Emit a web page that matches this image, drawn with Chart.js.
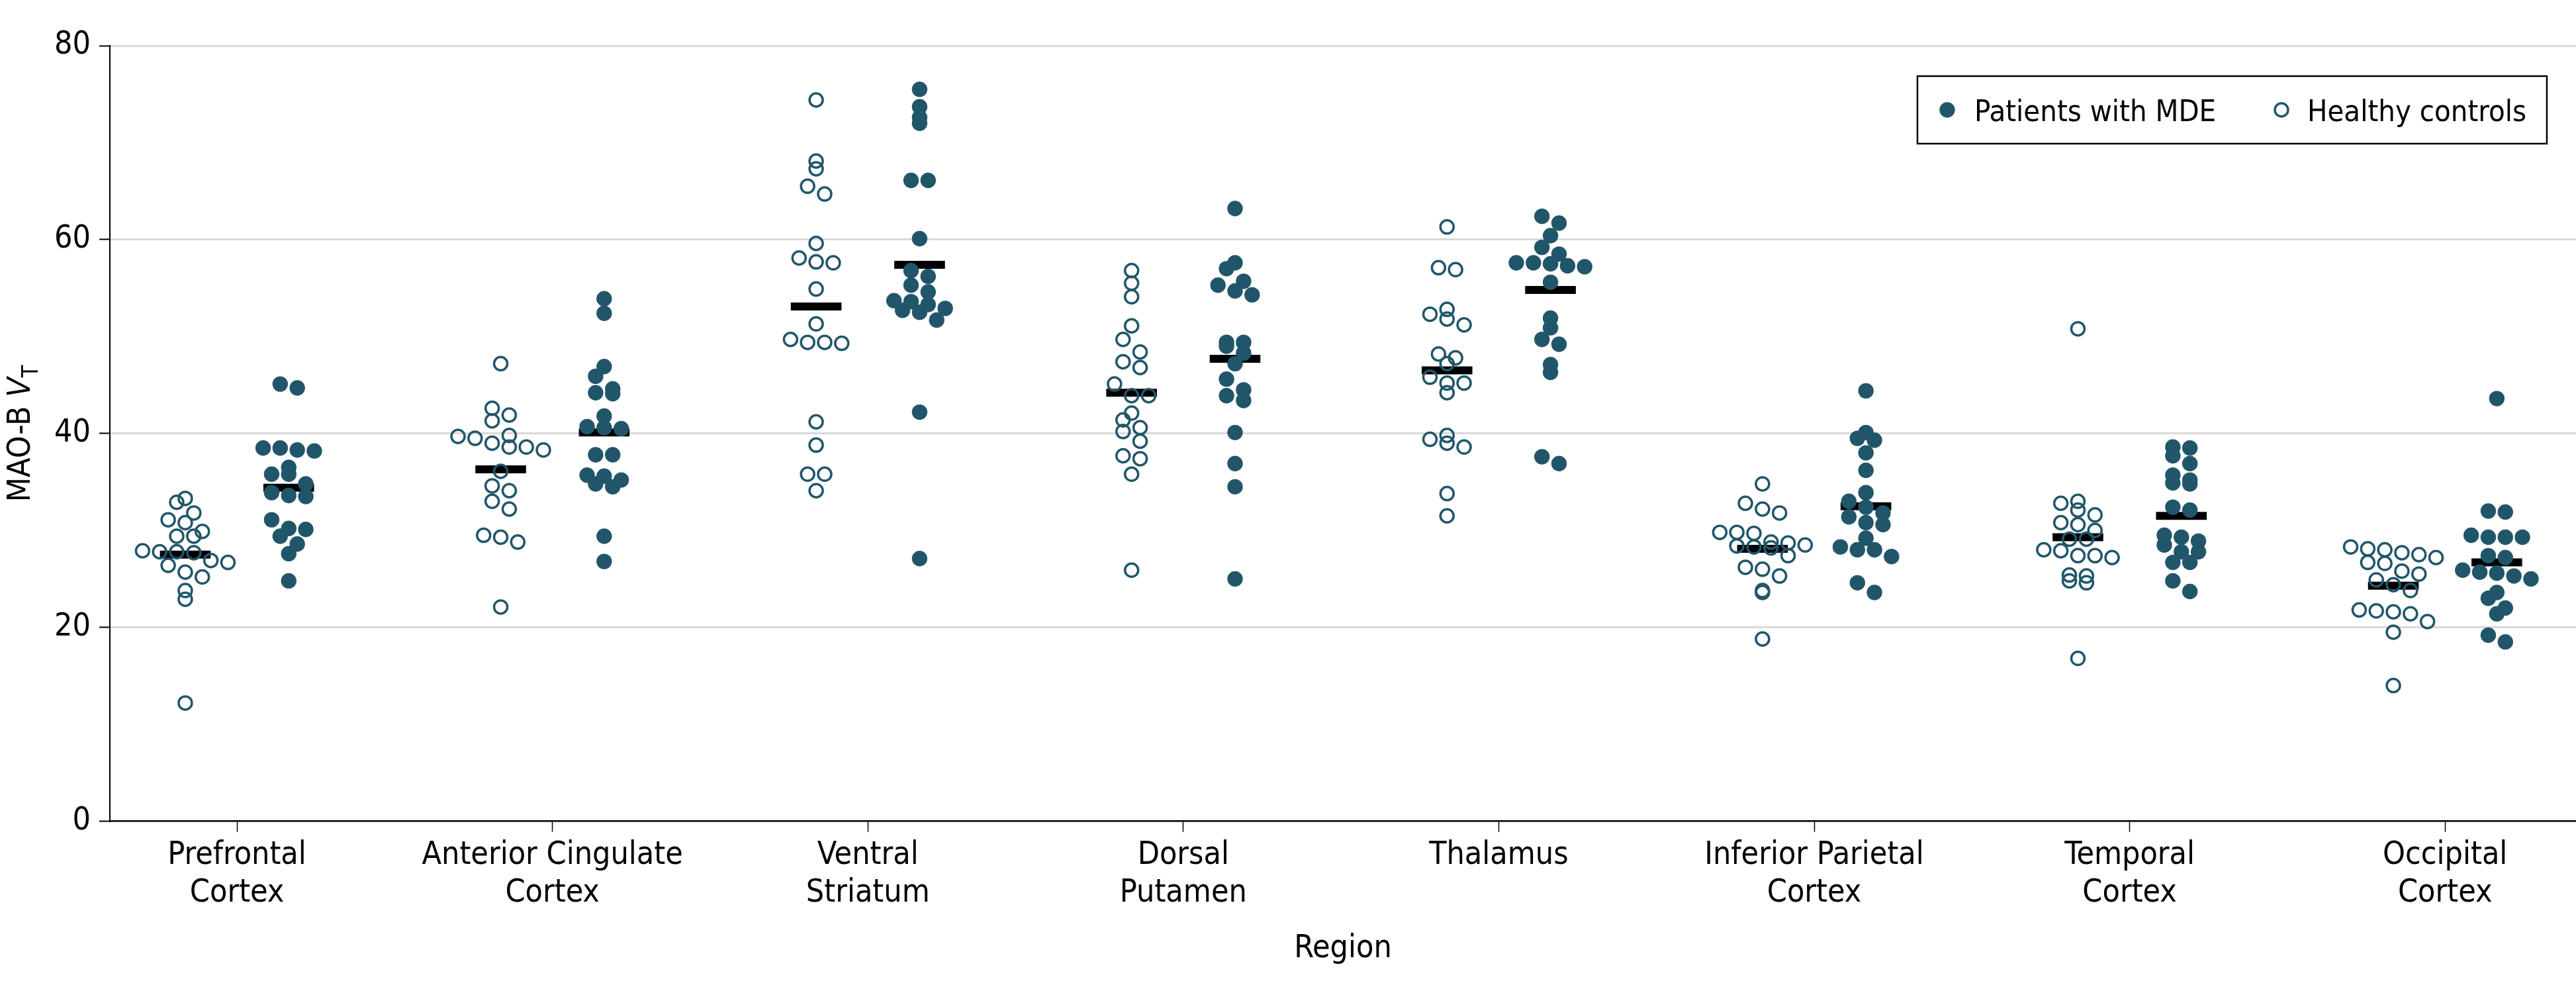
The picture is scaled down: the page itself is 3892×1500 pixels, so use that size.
<!DOCTYPE html>
<html lang="en">
<head>
  <meta charset="UTF-8">
  <title>MAO-B VT by region</title>
  <script src="https://cdn.jsdelivr.net/npm/chart.js"></script>
  <style>
    html, body { margin: 0; padding: 0; background: #fff; overflow: hidden; }
    #wrap { width: 3892px; height: 1500px; }
    canvas { display: block; }
  </style>
</head>
<body>
<div id="wrap"><canvas id="chart" width="3892" height="1500"></canvas></div>
<script>
  const regions = [
    ['Prefrontal', 'Cortex'], ['Anterior Cingulate', 'Cortex'], ['Ventral', 'Striatum'],
    ['Dorsal', 'Putamen'], ['Thalamus'], ['Inferior Parietal', 'Cortex'],
    ['Temporal', 'Cortex'], ['Occipital', 'Cortex']
  ];
  const yTicks = [0, 20, 40, 60, 80];
  const seriesNames = ['Patients with MDE', 'Healthy controls'];

  // healthy controls, per region
  const hcPrefrontal = [33.3, 32.9, 31.8, 30.8, 31.1, 29.9, 29.4, 29.4, 27.9, 27.8, 27.7, 27.8, 26.9, 26.7, 26.4, 25.7, 25.2, 23.8, 22.9, 12.2];
  const hcAntCing = [47.2, 42.6, 41.9, 41.3, 39.8, 39.5, 39.7, 39.0, 38.6, 38.3, 38.6, 36.1, 34.6, 34.1, 33.0, 32.2, 29.5, 29.3, 28.8, 22.1];
  const hcVentStr = [74.4, 68.1, 67.3, 65.5, 64.7, 59.6, 58.1, 57.6, 57.7, 54.9, 51.3, 49.3, 49.7, 49.4, 49.4, 41.2, 38.8, 35.8, 35.8, 34.1];
  const hcDorsPut = [56.8, 55.5, 54.1, 51.1, 49.7, 48.4, 47.4, 46.8, 45.1, 43.9, 43.9, 42.1, 41.4, 40.6, 40.2, 39.2, 37.7, 37.4, 35.8, 25.9];
  const hcThal = [61.3, 56.9, 57.1, 52.8, 52.3, 51.2, 51.8, 47.8, 48.2, 47.2, 45.8, 45.2, 45.2, 44.2, 39.4, 39.0, 38.6, 39.8, 33.8, 31.5];
  const hcInfPar = [34.8, 32.8, 32.2, 31.8, 29.8, 29.7, 29.8, 28.7, 28.4, 28.2, 28.5, 28.3, 28.8, 27.4, 26.0, 26.2, 25.3, 23.8, 23.6, 18.8];
  const hcTemp = [50.8, 32.8, 33.0, 32.1, 31.6, 30.6, 30.8, 30.0, 29.1, 29.1, 28.0, 27.9, 27.2, 27.4, 27.4, 25.4, 25.3, 24.8, 24.6, 16.8];
  const hcOcc = [28.0, 27.7, 27.5, 28.3, 28.1, 27.2, 26.7, 26.6, 25.8, 25.5, 24.9, 24.4, 23.8, 21.6, 21.4, 21.7, 21.8, 20.6, 19.5, 14.0];

  // patients with MDE, per region
  const mdePrefrontal = [45.1, 44.7, 38.5, 38.5, 38.3, 38.2, 36.5, 35.8, 35.8, 34.8, 33.9, 33.6, 33.5, 31.1, 30.1, 30.2, 29.4, 28.6, 27.6, 24.8];
  const mdeAntCing = [53.9, 52.4, 46.9, 45.9, 44.6, 44.1, 44.2, 41.8, 40.7, 40.5, 40.6, 37.8, 37.8, 35.2, 34.8, 34.5, 35.6, 35.7, 29.4, 26.8];
  const mdeVentStr = [75.5, 73.7, 72.6, 72.0, 66.1, 66.1, 60.1, 56.8, 56.2, 55.3, 54.6, 53.7, 53.6, 53.3, 52.9, 52.7, 52.5, 51.7, 42.2, 27.1];
  const mdeDorsPut = [63.2, 57.6, 57.0, 55.7, 55.3, 54.3, 54.7, 49.4, 49.0, 49.4, 48.3, 47.2, 45.6, 44.5, 43.4, 43.9, 40.1, 36.9, 34.5, 25.0];
  const mdeThal = [62.4, 61.7, 60.4, 59.2, 58.5, 57.6, 57.5, 57.2, 57.3, 57.6, 55.6, 51.9, 50.9, 49.2, 49.7, 47.1, 46.3, 37.6, 36.9];
  const mdeInfPar = [44.4, 40.1, 39.3, 39.5, 38.0, 36.2, 33.9, 33.0, 32.4, 31.8, 31.4, 30.8, 30.6, 29.2, 28.0, 28.0, 28.3, 27.3, 24.6, 23.6];
  const mdeTemp = [38.6, 37.7, 38.5, 36.9, 35.7, 34.9, 35.2, 34.8, 32.4, 32.1, 29.5, 29.3, 28.9, 28.5, 27.8, 27.8, 26.7, 26.7, 24.8, 23.7];
  const mdeOcc = [43.6, 31.9, 32.0, 29.5, 29.3, 29.3, 29.3, 27.2, 27.4, 25.7, 25.6, 25.9, 25.3, 25.0, 23.6, 23.0, 22.0, 21.4, 19.2, 18.5];

  // group means (black bars)
  const hcMeans = [27.5, 36.3, 53.1, 44.2, 46.5, 28.1, 29.3, 24.3];
  const mdeMeans = [34.4, 40.1, 57.4, 47.7, 54.8, 32.5, 31.5, 26.7];

  const hcSeries = [hcPrefrontal, hcAntCing, hcVentStr, hcDorsPut, hcThal, hcInfPar, hcTemp, hcOcc];
  const mdeSeries = [mdePrefrontal, mdeAntCing, mdeVentStr, mdeDorsPut, mdeThal, mdeInfPar, mdeTemp, mdeOcc];

  const TEAL = '#21566a';
  const FONT = "'DejaVu Sans Condensed', 'DejaVu Sans', sans-serif";
  const SHIFT = 0.164;   // group offset from the region tick, in category units
  const BIN_PX = 23.5;   // swarm bin height
  const STEP_PX = 25.8;  // swarm horizontal spacing

  Chart.defaults.color = '#000';
  Chart.defaults.font.family = FONT;

  function toPoints(series, shift) {
    const pts = [];
    series.forEach((vals, r) => vals.forEach(v => pts.push({ x: r + 1 + shift, y: v })));
    return pts;
  }

  // simple binned beeswarm: points in the same y-bin are spread sideways around the center
  function swarmOffsets(pys) {
    const base = Math.max(...pys);
    const bins = new Map();
    pys.forEach((p, i) => {
      const b = Math.floor((base - p) / BIN_PX + 0.0001);
      if (!bins.has(b)) bins.set(b, []);
      bins.get(b).push(i);
    });
    const off = pys.map(() => 0);
    bins.forEach(idx => {
      idx.sort((a, b) => pys[a] - pys[b]);
      idx.forEach((i, k) => { off[i] = (k - (idx.length - 1) / 2) * STEP_PX; });
    });
    return off;
  }

  function applySwarm(chart) {
    const xs = chart.scales.x, ys = chart.scales.y;
    const unit = xs.getPixelForValue(1) - xs.getPixelForValue(0);
    [[0, mdeSeries, SHIFT], [1, hcSeries, -SHIFT]].forEach(([di, series, shift]) => {
      const data = [];
      series.forEach((vals, r) => {
        const offs = swarmOffsets(vals.map(v => ys.getPixelForValue(v)));
        vals.forEach((v, i) => data.push({ x: r + 1 + shift + offs[i] / unit, y: v }));
      });
      chart.data.datasets[di].data = data;
    });
    chart.update('none');
  }

  const decor = {
    id: 'decor',
    afterDraw(chart) {
      const { ctx, chartArea } = chart;
      ctx.save();

      // y axis title: MAO-B V with subscript T
      const yc = (chartArea.top + chartArea.bottom) / 2;
      ctx.translate(chartArea.left - 121, yc);
      ctx.rotate(-Math.PI / 2);
      ctx.textBaseline = 'alphabetic';
      ctx.fillStyle = '#000';
      const f1 = '48px ' + FONT, f2 = 'italic 48px ' + FONT, f3 = '34px ' + FONT;
      ctx.font = f1; const w1 = ctx.measureText('MAO-B ').width;
      ctx.font = f2; const w2 = ctx.measureText('V').width;
      ctx.font = f3; const w3 = ctx.measureText('T').width;
      const x0 = -(w1 + w2 + w3) / 2;
      ctx.textAlign = 'left';
      ctx.font = f1; ctx.fillText('MAO-B ', x0, 0);
      ctx.font = f2; ctx.fillText('V', x0 + w1, 0);
      ctx.font = f3; ctx.fillText('T', x0 + w1 + w2, 12);
      ctx.restore();

      // legend box, top right inside the plot
      ctx.save();
      const bx = chartArea.right - 995, by = chartArea.top + 46, bw = 951, bh = 102;
      ctx.fillStyle = '#fff';
      ctx.fillRect(bx, by, bw, bh);
      ctx.strokeStyle = '#000';
      ctx.lineWidth = 2.5;
      ctx.strokeRect(bx, by, bw, bh);
      const my = by + bh / 2;
      ctx.fillStyle = TEAL;
      ctx.beginPath(); ctx.arc(bx + 45, my, 11.7, 0, Math.PI * 2); ctx.fill();
      ctx.strokeStyle = TEAL; ctx.lineWidth = 3.5;
      ctx.beginPath(); ctx.arc(bx + 550, my, 10, 0, Math.PI * 2); ctx.stroke();
      ctx.fillStyle = '#000';
      ctx.font = '45px ' + FONT;
      ctx.textBaseline = 'alphabetic';
      ctx.fillText(seriesNames[0], bx + 86, my + 17);
      ctx.fillText(seriesNames[1], bx + 589, my + 17);
      ctx.restore();
    }
  };

  const meanBars = [];
  hcMeans.forEach((m, r) => meanBars.push({ x: r + 1 - SHIFT, y: m }));
  mdeMeans.forEach((m, r) => meanBars.push({ x: r + 1 + SHIFT, y: m }));

  const chart = new Chart(document.getElementById('chart'), {
    type: 'scatter',
    data: {
      datasets: [
        {
          label: seriesNames[0],
          data: toPoints(mdeSeries, SHIFT),
          pointRadius: 11.7,
          pointBorderWidth: 0,
          pointBackgroundColor: TEAL,
          order: 0
        },
        {
          label: seriesNames[1],
          data: toPoints(hcSeries, -SHIFT),
          pointRadius: 10,
          pointBorderWidth: 3.5,
          pointBorderColor: TEAL,
          pointBackgroundColor: 'rgba(0,0,0,0)',
          order: 0
        },
        {
          label: 'Mean',
          data: meanBars,
          pointStyle: 'line',
          pointRadius: 38.3,
          pointBorderWidth: 12,
          pointBorderColor: '#000',
          order: 5
        }
      ]
    },
    options: {
      responsive: false,
      animation: false,
      events: [],
      layout: { autoPadding: false, padding: { top: 69, right: 0, left: 0, bottom: 0 } },
      plugins: { legend: { display: false }, tooltip: { enabled: false } },
      scales: {
        x: {
          type: 'linear',
          min: 0.597,
          max: 8.415,
          afterBuildTicks: s => { s.ticks = regions.map((_, i) => ({ value: i + 1 })); },
          afterFit: s => { s.height = 259.4; s.paddingLeft = 0; s.paddingRight = 0; },
          ticks: {
            autoSkip: false,
            maxRotation: 0,
            padding: 7,
            font: { size: 48, lineHeight: 1.19 },
            callback: v => regions[v - 1]
          },
          grid: { drawOnChartArea: false, tickLength: 16, tickWidth: 1.5, tickColor: '#000' },
          border: { display: true, color: '#000', width: 2.5 },
          title: { display: true, text: 'Region', font: { size: 48, lineHeight: 1.2 }, padding: { top: 0, bottom: 38 } }
        },
        y: {
          min: 0,
          max: 80,
          afterBuildTicks: s => { s.ticks = yTicks.map(v => ({ value: v })); },
          afterFit: s => { s.width = 166; },
          ticks: { padding: 13, font: { size: 48 } },
          grid: {
            color: c => (c.tick && c.tick.value === 0 ? 'rgba(0,0,0,0)' : '#d9d9d9'),
            lineWidth: 3,
            tickLength: 16,
            tickWidth: 2,
            tickColor: '#000'
          },
          border: { display: true, color: '#000', width: 2 }
        }
      }
    },
    plugins: [decor]
  });

  applySwarm(chart);
</script>
</body>
</html>
